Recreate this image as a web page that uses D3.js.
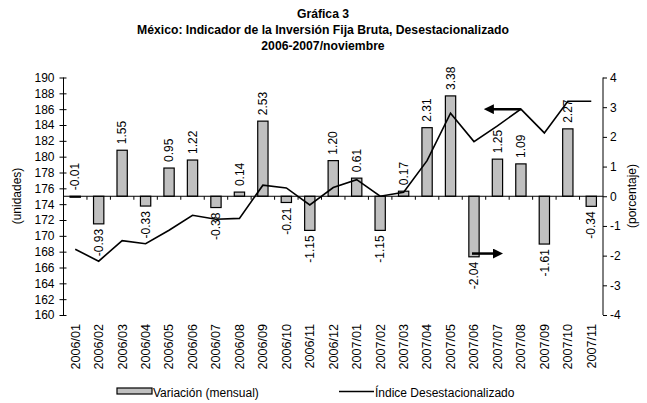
<!DOCTYPE html>
<html>
<head>
<meta charset="utf-8">
<script src="https://cdn.jsdelivr.net/npm/d3@7"></script>
<style>
  html, body { margin: 0; padding: 0; background: #fff; }
  svg { display: block; font-family: Arial, "Liberation Sans", sans-serif; }
</style>
</head>
<body>
<svg width="647" height="403"></svg>
<script>
// ---- Datos
const categorias = ['2006/01','2006/02','2006/03','2006/04','2006/05','2006/06','2006/07','2006/08',
  '2006/09','2006/10','2006/11','2006/12','2007/01','2007/02','2007/03','2007/04','2007/05','2007/06',
  '2007/07','2007/08','2007/09','2007/10','2007/11'];
const variacion = [-0.01, -0.93, 1.55, -0.33, 0.95, 1.22, -0.38, 0.14, 2.53, -0.21, -1.15, 1.20,
  0.61, -1.15, 0.17, 2.31, 3.38, -2.04, 1.25, 1.09, -1.61, 2.27, -0.34];
const indice = [168.3, 166.8, 169.4, 169.0, 170.7, 172.6, 172.1, 172.2, 176.4, 176.05, 173.9, 176.1,
  177.1, 175.0, 175.5, 179.5, 185.5, 181.9, 183.9, 186.0, 183.0, 187.0, 187.0];
const ticksIzq = [160,162,164,166,168,170,172,174,176,178,180,182,184,186,188,190];
const ticksDer = [-4,-3,-2,-1,0,1,2,3,4];
const titulo = ['Gráfica 3', 'México: Indicador de la Inversión Fija Bruta, Desestacionalizado', '2006-2007/noviembre'];
// flechas: serie de la izquierda apunta al eje izq., barras al eje der.
const flechaIzq = { cat: '2007/08', valor: 186.0 };
const flechaDer = { cat: '2007/06', valor: -1.93 };

const svg = d3.select('svg');
const margens = { left: 63.5, right: 603, top: 77.5, bottom: 315 };

// ---- Escalas
const mapX = d3.scaleBand().domain(categorias).range([margens.left, margens.right]);
const mapYL = d3.scaleLinear().domain([160, 190]).range([margens.bottom, margens.top]);
const mapYR = d3.scaleLinear().domain([-4, 4]).range([margens.bottom, margens.top]);
const cx = c => mapX(c) + mapX.bandwidth() / 2;
const barW = 10.3;

// ---- Título
svg.append('g').selectAll('text').data(titulo).join('text')
  .attr('x', 323).attr('y', (d, i) => 18 + i * 16)
  .attr('text-anchor', 'middle')
  .style('font-weight', 'bold').style('font-size', '12.2px')
  .text(d => d);

// ---- Eje izquierdo
const axisL = svg.append('g').attr('transform', `translate(${margens.left},0)`)
  .call(d3.axisLeft(mapYL).tickValues(ticksIzq).tickSize(4).tickPadding(5));
axisL.selectAll('.tick line').attr('x1', 3);
axisL.select('.domain').attr('d', `M0,${margens.top}V${margens.bottom}`);

// ---- Eje derecho
const axisR = svg.append('g').attr('transform', `translate(${margens.right},0)`)
  .call(d3.axisRight(mapYR).tickValues(ticksDer).tickSize(4).tickPadding(3).tickFormat(d => String(d)));
axisR.select('.domain').attr('d', `M0,${margens.top}V${margens.bottom}`);

[axisL, axisR].forEach(a => {
  a.attr('font-family', null).attr('font-size', null);
  a.selectAll('text').style('font-size', '12px').attr('fill', '#000');
  a.selectAll('line, path').attr('stroke', '#000');
});

// ---- Barras
svg.append('g').selectAll('rect').data(variacion).join('rect')
  .attr('x', (d, i) => cx(categorias[i]) - barW / 2)
  .attr('y', d => mapYR(Math.max(d, 0)))
  .attr('width', barW)
  .attr('height', d => Math.max(Math.abs(mapYR(d) - mapYR(0)), 1))
  .attr('fill', '#c0c0c0').attr('stroke', '#000').attr('stroke-width', 1.2);

// ---- Eje de categorías (en cero)
const y0 = mapYR(0);
svg.append('line').attr('x1', margens.left).attr('x2', margens.right).attr('y1', y0).attr('y2', y0)
  .attr('stroke', '#000');
svg.append('g').selectAll('line').data(categorias.slice(1)).join('line')
  .attr('x1', d => mapX(d)).attr('x2', d => mapX(d))
  .attr('y1', y0).attr('y2', y0 + 3.5).attr('stroke', '#000');

// ---- Línea
const line = d3.line().x((d, i) => cx(categorias[i])).y(d => mapYL(d));
svg.append('path').datum(indice)
  .attr('d', line).attr('fill', 'none').attr('stroke', '#000').attr('stroke-width', 1.6);

// ---- Etiquetas de barras
svg.append('g').selectAll('text').data(variacion).join('text')
  .attr('transform', (d, i) => {
    const arriba = d > -0.05;
    const y = arriba ? mapYR(Math.max(d, 0)) - 6 : mapYR(d) + 5;
    return `translate(${cx(categorias[i])},${y}) rotate(-90)`;
  })
  .attr('text-anchor', d => d > -0.05 ? 'start' : 'end')
  .attr('dy', '0.35em')
  .style('font-size', '12px')
  .text(d => d.toFixed(2));

// ---- Etiquetas del eje X
svg.append('g').selectAll('text').data(categorias).join('text')
  .attr('transform', d => `translate(${cx(d)},324) rotate(-90)`)
  .attr('text-anchor', 'end').attr('dy', '0.35em')
  .style('font-size', '12.6px')
  .text(d => d);

// ---- Títulos de ejes
svg.append('text').attr('transform', `translate(17,196) rotate(-90)`)
  .attr('text-anchor', 'middle').attr('dy', '0.35em').style('font-size', '12px').text('(unidades)');
svg.append('text').attr('transform', `translate(632,196) rotate(-90)`)
  .attr('text-anchor', 'middle').attr('dy', '0.35em').style('font-size', '12px').text('(porcentaje)');

// ---- Flechas
const defs = svg.append('defs');
defs.append('marker').attr('id', 'punta').attr('viewBox', '0 0 10 10')
  .attr('refX', 5).attr('refY', 5).attr('markerWidth', 4).attr('markerHeight', 4)
  .attr('orient', 'auto-start-reverse')
  .append('path').attr('d', 'M0,0L10,5L0,10z').attr('fill', '#000');

const xa = cx(flechaIzq.cat), ya = mapYL(flechaIzq.valor);
svg.append('line').attr('x1', xa).attr('x2', xa - 32).attr('y1', ya).attr('y2', ya)
  .attr('stroke', '#000').attr('stroke-width', 2.5).attr('marker-end', 'url(#punta)');
const xb = cx(flechaDer.cat), yb = mapYR(flechaDer.valor);
svg.append('line').attr('x1', xb - 2).attr('x2', xb + 24).attr('y1', yb).attr('y2', yb)
  .attr('stroke', '#000').attr('stroke-width', 2.5).attr('marker-end', 'url(#punta)');

// ---- Leyenda
const leg = svg.append('g');
leg.append('rect').attr('x', 117).attr('y', 388).attr('width', 35).attr('height', 6)
  .attr('fill', '#c0c0c0').attr('stroke', '#000').attr('stroke-width', 1.2);
leg.append('text').attr('x', 153).attr('y', 397).style('font-size', '12px').text('Variación (mensual)');
leg.append('line').attr('x1', 339).attr('x2', 374).attr('y1', 391.5).attr('y2', 391.5)
  .attr('stroke', '#000').attr('stroke-width', 1.6);
leg.append('text').attr('x', 375).attr('y', 397).style('font-size', '12px').text('Índice Desestacionalizado');
</script>
</body>
</html>
